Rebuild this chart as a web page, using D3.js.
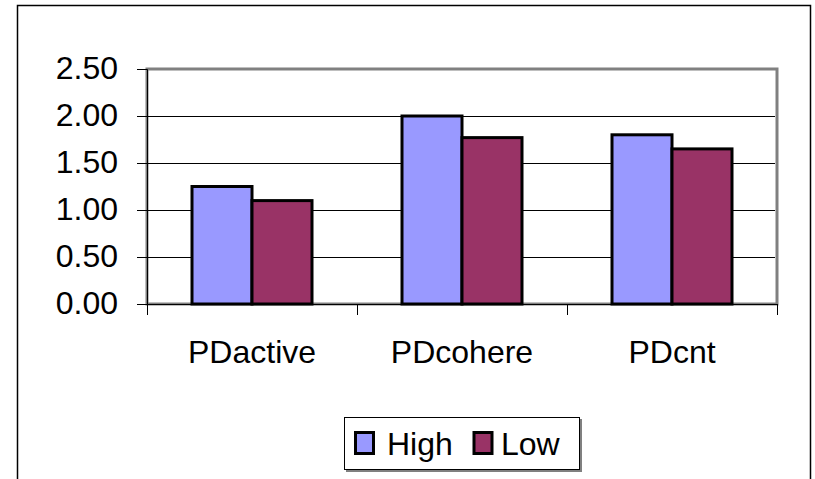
<!DOCTYPE html>
<html>
<head>
<meta charset="utf-8">
<script src="https://cdn.jsdelivr.net/npm/d3@7"></script>
<style>
  body { margin: 0; background: #fff; }
  text { font-family: Arial, "Liberation Sans", sans-serif; }
</style>
</head>
<body>
<div id="chart"></div>
<script>
// Chart data
const categories = ["PDactive", "PDcohere", "PDcnt"];
const seriesNames = ["High", "Low"];
const highValues = [1.25, 2.00, 1.80];
const lowValues = [1.10, 1.77, 1.65];
const yTicks = [0, 0.5, 1.0, 1.5, 2.0, 2.5];

const colors = { High: "#9999FF", Low: "#993366" };

// Build rows for drawing
const rows = categories.map((c, i) => ({
    category: c,
    values: [
        { series: "High", value: highValues[i] },
        { series: "Low", value: lowValues[i] }
    ]
}));

const width = 815, height = 479;
const plot = { left: 147, right: 777, top: 69, bottom: 304 };

const svg = d3.select("#chart").append("svg")
    .attr("width", width)
    .attr("height", height);

// Outer chart frame (bottom edge runs past the image)
svg.append("rect")
    .attr("x", 17.5).attr("y", 5.5)
    .attr("width", 793).attr("height", 490)
    .attr("fill", "#fff")
    .attr("stroke", "#000")
    .attr("stroke-width", 1.5);

// Scales
const x0 = d3.scaleBand()
    .domain(categories)
    .range([plot.left, plot.right])
    .padding(0);

const x1 = d3.scaleBand()
    .domain(seriesNames)
    .range([0, x0.bandwidth()])
    .paddingInner(0)
    .paddingOuter(0.75);

const y = d3.scaleLinear()
    .domain([0, 2.5])
    .range([plot.bottom, plot.top]);

// Plot area border (gray)
svg.append("rect")
    .attr("x", plot.left).attr("y", plot.top)
    .attr("width", plot.right - plot.left)
    .attr("height", plot.bottom - plot.top)
    .attr("fill", "none")
    .attr("stroke", "#808080")
    .attr("stroke-width", 3);

// Gridlines
svg.append("g")
    .selectAll("line")
    .data(yTicks.filter(t => t > 0 && t < 2.5))
    .enter().append("line")
    .attr("x1", plot.left)
    .attr("x2", plot.right - 2)
    .attr("y1", d => Math.round(y(d)) + 0.5)
    .attr("y2", d => Math.round(y(d)) + 0.5)
    .attr("stroke", "#000")
    .attr("stroke-width", 1);

// Bars
const groups = svg.selectAll(".group")
    .data(rows)
    .enter().append("g")
    .attr("class", "group")
    .attr("transform", d => `translate(${x0(d.category)},0)`);

groups.selectAll("rect")
    .data(d => d.values)
    .enter().append("rect")
    .attr("x", d => x1(d.series))
    .attr("y", d => y(d.value))
    .attr("width", x1.bandwidth())
    .attr("height", d => y(0) - y(d.value))
    .attr("fill", d => colors[d.series])
    .attr("stroke", "#000")
    .attr("stroke-width", 3);

// Y axis
const yAxis = svg.append("g")
    .attr("transform", `translate(${plot.left},0)`)
    .call(d3.axisLeft(y).tickValues(yTicks).tickFormat(d3.format(".2f")).tickSize(10).tickPadding(19));
yAxis.select(".domain").attr("stroke", "#000").attr("stroke-width", 1);
yAxis.selectAll(".tick line").attr("stroke", "#000");
yAxis.selectAll("text")
    .attr("font-size", 32)
    .attr("font-family", "Arial, 'Liberation Sans', sans-serif")
    .attr("dy", "0.29em")
    .attr("fill", "#000");

// X axis: labels centered, ticks at category boundaries
const xAxis = svg.append("g")
    .attr("transform", `translate(0,${plot.bottom})`)
    .call(d3.axisBottom(x0).tickSize(0).tickPadding(36));
xAxis.select(".domain").remove();
xAxis.selectAll("text")
    .attr("font-size", 32)
    .attr("font-family", "Arial, 'Liberation Sans', sans-serif")
    .attr("fill", "#000");

svg.append("line")
    .attr("x1", plot.left).attr("x2", plot.right)
    .attr("y1", plot.bottom + 0.5).attr("y2", plot.bottom + 0.5)
    .attr("stroke", "#000");

const boundaries = categories.map(c => x0(c)).concat([x0(categories[categories.length - 1]) + x0.bandwidth()]);
svg.append("g")
    .selectAll("line")
    .data(boundaries)
    .enter().append("line")
    .attr("x1", d => Math.round(d) + 0.5)
    .attr("x2", d => Math.round(d) + 0.5)
    .attr("y1", plot.bottom)
    .attr("y2", plot.bottom + 11)
    .attr("stroke", "#000");

// Legend
const legend = svg.append("g");
legend.append("rect")
    .attr("x", 346).attr("y", 419)
    .attr("width", 236).attr("height", 53)
    .attr("fill", "#808080");
legend.append("rect")
    .attr("x", 344.5).attr("y", 417.5)
    .attr("width", 235).attr("height", 52)
    .attr("fill", "#fff")
    .attr("stroke", "#000")
    .attr("stroke-width", 1);

const legendItems = [
    { name: "High", sx: 355.5, tx: 387 },
    { name: "Low", sx: 474, tx: 501 }
];
legendItems.forEach(item => {
    legend.append("rect")
        .attr("x", item.sx).attr("y", 432.5)
        .attr("width", 18).attr("height", 21)
        .attr("fill", colors[item.name])
        .attr("stroke", "#000")
        .attr("stroke-width", 3);
    legend.append("text")
        .attr("x", item.tx)
        .attr("y", 455)
        .attr("font-size", 32)
        .attr("fill", "#000")
        .text(item.name);
});
</script>
</body>
</html>
